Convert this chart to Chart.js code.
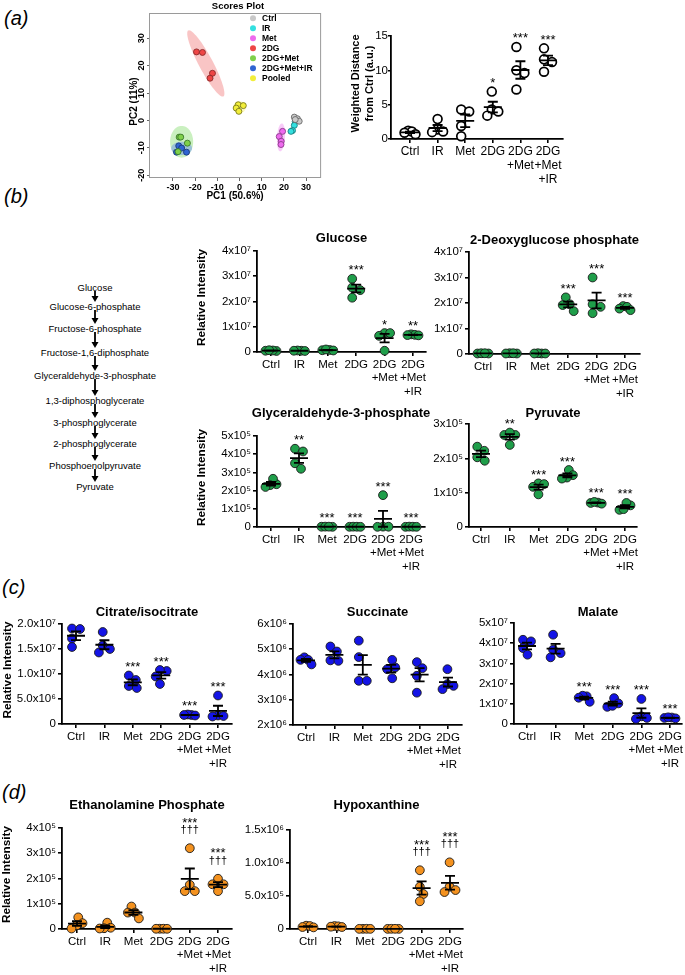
<!DOCTYPE html>
<html><head><meta charset="utf-8">
<script src="https://cdn.jsdelivr.net/npm/chart.js@4.4.1/dist/chart.umd.min.js"></script>
<style>
html,body{margin:0;padding:0;background:#fff;}
body{width:685px;height:975px;position:relative;overflow:hidden;font-family:"Liberation Sans",Arial,sans-serif;color:#000;}
canvas{position:absolute;}
.plab{position:absolute;font-style:italic;font-size:20px;line-height:20px;}
.pw{position:absolute;left:0;width:190px;text-align:center;font-size:9.5px;line-height:10px;}
svg{position:absolute;left:0;top:0;}
</style></head><body>
<div class="plab" style="left:4px;top:8px">(a)</div>
<div class="plab" style="left:4px;top:186px">(b)</div>
<div class="plab" style="left:2px;top:577px">(c)</div>
<div class="plab" style="left:2px;top:782px">(d)</div>
<div id="path"></div>
<script>
// ---------------- DATA ----------------
const groups = ['Ctrl','IR','Met','2DG','2DG+Met','2DG+Met+IR'];
const groupTickLabels = [['Ctrl'],['IR'],['Met'],['2DG'],['2DG','+Met'],['2DG','+Met','+IR']];

// (a) PCA scores plot: [PC1, PC2]
const pcaGroups = ['Ctrl','IR','Met','2DG','2DG+Met','2DG+Met+IR','Pooled'];
const pcaCtrl = [[24.7,1.2],[26.1,0.6],[26.9,-0.3],[25.1,0.3]];
const pcaIR = [[25.1,-0.4],[24.7,-1.8],[23.9,-3.7],[23.2,-4.0]];
const pcaMet = [[19.4,-4.0],[17.9,-5.9],[18.8,-7.6],[18.7,-8.8]];
const pca2DG = [[-19.4,25.0],[-16.7,24.8],[-12.2,17.2],[-13.3,15.4]];
const pca2DGMet = [[-27.2,-6.1],[-26.5,-6.1],[-23.5,-8.3],[-27.7,-11.4]];
const pca2DGMetIR = [[-27.4,-9.3],[-26.1,-10.1],[-28.4,-11.6],[-23.9,-11.6]];
const pcaPooled = [[-0.6,5.7],[1.7,5.4],[-1.5,4.5],[-0.3,3.3]];
// confidence ellipses: [centerX, centerY, semiAxisA_x, semiAxisA_y, semiAxisB_x, semiAxisB_y]
const ellCtrl = [25.8,0.7,1.6,0,0,1.1];
const ellIR = [24.45,-1.85,1.55,2.35,0.5,-0.25];
const ellMet = [18.7,-6.2,0.4,5.1,1.8,-0.1];
const ell2DG = [-15.2,20.8,7.9,-12.05,2.8,1.2];
const ell2DGMet = [-26.1,-7.8,5.2,0,0,5.8];
const ell2DGMetIR = [-26.1,-10.2,4.7,0,0,2.4];
const ellPooled = [0,4.8,2.9,0,0,2.2];
const pcaXTicks = [-30,-20,-10,0,10,20,30];
const pcaYTicks = [-20,-10,0,10,20,30];

// (a) weighted distance from Ctrl
const wdVals = [[1.2,1.1,0.9,0.7],[2.9,1.4,1.1,1.0],[4.3,4.0,1.9,0.4],[6.9,4.3,4.0,3.4],[13.4,10.0,9.6,7.2],[13.2,11.6,11.2,9.8]];
const wdStars = ['','','','*','***','***'];
const wdTicks = [0,5,10,15];
const wdTickLabels = ['0','5','10','15'];

// (b) glycolysis
const pathway = ['Glucose','Glucose-6-phosphate','Fructose-6-phosphate','Fructose-1,6-diphosphate','Glyceraldehyde-3-phosphate','1,3-diphosphoglycerate','3-phosphoglycerate','2-phosphoglycerate','Phosphoenolpyruvate','Pyruvate'];

const glucoseVals = [[4e5,6e5,5e5,7e5],[5e5,6e5,4e5,5e5],[8e5,7e5,1.0e6,6e5],[2.9e7,2.55e7,2.45e7,2.15e7],[7.5e6,7.5e6,6.4e6,5e5],[7.0e6,6.8e6,6.6e6,6.7e6]];
const glucoseStars = ['','','','***','*','**'];
const dgpVals = [[2e5,3e5,2e5,3e5],[3e5,2e5,2e5,3e5],[2e5,3e5,2e5,2e5],[2.22e7,1.95e7,1.92e7,1.68e7],[3.0e7,1.95e7,1.85e7,1.6e7],[1.88e7,1.85e7,1.78e7,1.72e7]];
const dgpStars = ['','','','***','***','***'];
const e7Ticks = [0,1e7,2e7,3e7,4e7];
const e7Labels = ['0','1x10\u2077','2x10\u2077','3x10\u2077','4x10\u2077'];

const g3pVals = [[2.35e5,2.65e5,2.3e5,2.2e5],[4.3e5,4.15e5,3.5e5,3.2e5],[1500,2000,1000,1800],[1200,1800,1500,1000],[1.75e5,2000,1000,1500],[1000,2000,1500,1000]];
const g3pStars = ['','**','***','***','***','***'];
const g3pTicks = [0,1e5,2e5,3e5,4e5,5e5];
const g3pLabels = ['0','1x10\u2075','2x10\u2075','3x10\u2075','4x10\u2075','5x10\u2075'];

const pyrVals = [[2.34e5,2.22e5,2.03e5,1.93e5],[2.68e5,2.68e5,2.75e5,2.39e5],[1.27e5,1.25e5,1.17e5,0.95e5],[1.66e5,1.51e5,1.44e5,1.41e5],[0.70e5,0.71e5,0.73e5,0.68e5],[0.63e5,0.70e5,0.50e5,0.52e5]];
const pyrStars = ['','**','***','***','***','***'];
const pyrTicks = [0,1e5,2e5,3e5];
const pyrLabels = ['0','1x10\u2075','2x10\u2075','3x10\u2075'];

// (c) TCA
const citVals = [[1.91e7,1.9e7,1.71e7,1.54e7],[1.84e7,1.57e7,1.5e7,1.43e7],[0.97e7,0.88e7,0.76e7,0.72e7],[1.06e7,1.08e7,0.95e7,0.8e7],[0.18e7,0.19e7,0.18e7,0.17e7],[0.57e7,0.17e7,0.15e7,0.16e7]];
const citStars = ['','','***','***','***','***'];
const citTicks = [0,5e6,1e7,1.5e7,2e7];
const citLabels = ['0','5.0x10\u2076','1.0x10\u2077','1.5x10\u2077','2.0x10\u2077'];

const sucVals = [[4.68e6,4.58e6,4.4e6,4.58e6],[5.11e6,4.91e6,4.56e6,4.54e6],[5.34e6,4.69e6,3.75e6,3.75e6],[4.58e6,4.28e6,4.21e6,3.85e6],[4.49e6,4.25e6,3.95e6,3.28e6],[4.21e6,3.62e6,3.55e6,3.42e6]];
const sucStars = ['','','','','',''];
const sucTicks = [2e6,3e6,4e6,5e6,6e6];
const sucLabels = ['2x10\u2076','3x10\u2076','4x10\u2076','5x10\u2076','6x10\u2076'];

const malVals = [[4.17e7,4.09e7,3.76e7,3.43e7],[4.42e7,3.68e7,3.51e7,3.3e7],[1.37e7,1.4e7,1.3e7,1.1e7],[1.28e7,1.02e7,0.85e7,0.9e7],[1.24e7,0.38e7,0.25e7,0.3e7],[0.32e7,0.28e7,0.3e7,0.33e7]];
const malStars = ['','','***','***','***','***'];
const malTicks = [0,1e7,2e7,3e7,4e7,5e7];
const malLabels = ['0','1x10\u2077','2x10\u2077','3x10\u2077','4x10\u2077','5x10\u2077'];

// (d)
const ethVals = [[4.6e4,2.3e4,1.5e4,2e3],[2.5e4,5e3,3e3,2e3],[8.9e4,6.5e4,6.5e4,4.2e4],[1000,1000,800,900],[3.2e5,1.75e5,1.5e5,1.5e5],[1.99e5,1.77e5,1.77e5,1.5e5]];
const ethStars = ['','','','','***','***'];
const ethDaggers = ['','','','','\u2020\u2020\u2020','\u2020\u2020\u2020'];
const ethTicks = [0,1e5,2e5,3e5,4e5];
const ethLabels = ['0','1x10\u2075','2x10\u2075','3x10\u2075','4x10\u2075'];

const hypVals = [[5e4,4.5e4,3e4,2.5e4],[4.5e4,4e4,3e4,3.5e4],[3e3,2e3,3e3,2e3],[2e3,3e3,2e3,3e3],[8.9e5,6.4e5,5.3e5,4.2e5],[1.01e6,6.4e5,5.9e5,5.6e5]];
const hypStars = ['','','','','***','***'];
const hypDaggers = ['','','','','\u2020\u2020\u2020','\u2020\u2020\u2020'];
const hypTicks = [0,5e5,1e6,1.5e6];
const hypLabels = ['0','5.0x10\u2075','1.0x10\u2076','1.5x10\u2076'];

// ---------------- RENDER ----------------
const FONT = '"Liberation Sans", Arial, Helvetica, sans-serif';
Chart.defaults.font.family = FONT;
Chart.defaults.color = '#000';
Chart.defaults.animation = false;

function mk(left, top, w, h){
  const c = document.createElement('canvas');
  c.width = w; c.height = h;
  c.style.left = left+'px'; c.style.top = top+'px';
  c.style.width = w+'px'; c.style.height = h+'px';
  document.body.appendChild(c);
  return c;
}
const mean = a => a.reduce((s,v)=>s+v,0)/a.length;
const sem = a => { const m = mean(a); return Math.sqrt(a.reduce((s,v)=>s+(v-m)*(v-m),0)/(a.length-1))/Math.sqrt(a.length); };

function swarm(pixYs, D, maxSpread){
  const idx = pixYs.map((v,i)=>i).sort((a,b)=>pixYs[a]-pixYs[b]);
  const placed = []; const off = new Array(pixYs.length).fill(0);
  for (const i of idx){
    const y = pixYs[i]; let best = 0;
    outer: for (let k=0;k<=60;k++){
      const cands = k===0 ? [0] : [k*0.5, -k*0.5];
      for (const dx of cands){
        if (placed.every(p=>Math.hypot(p.x-dx,p.y-y)>=D)){ best = dx; break outer; }
      }
    }
    placed.push({x:best,y}); off[i]=best;
  }
  const mn = Math.min(...off), mx = Math.max(...off), c=(mn+mx)/2;
  let r = off.map(o=>o-c); const rng = mx-mn;
  if (rng>maxSpread) r = r.map(o=>o*maxSpread/rng);
  return r;
}

const YW=80, TP=48, RP=14, XH=52;
function dotChart(cfg){
  const a = cfg.area;
  const cw = a.right-a.left+YW+RP, ch = a.bottom-a.top+TP+XH;
  const cl = a.left-YW, ct = a.top-TP;
  const canvas = mk(cl, ct, cw, ch);
  const xmin = (a.left-cfg.ctrlX)/cfg.spacing, xmax = (a.right-cfg.ctrlX)/cfg.spacing;
  const yMin = cfg.yTicks[0], yMax = cfg.yTicks[cfg.yTicks.length-1];
  const pxPerY = (a.bottom-a.top)/(yMax-yMin);
  const pts = [];
  cfg.vals.forEach((vals,i)=>{
    const offs = swarm(vals.map(v=>-(v-yMin)*pxPerY), 8, 11);
    vals.forEach((v,j)=>pts.push({x:i+offs[j]/cfg.spacing, y:v}));
  });
  const fs = cfg.fontSize || 11.5;
  const plugin = {
    id:'deco'+cfg.id,
    afterDatasetsDraw(chart){
      const {ctx, scales:{x,y}} = chart;
      ctx.save();
      ctx.strokeStyle='#000'; ctx.lineWidth=1.8; ctx.lineCap='butt';
      cfg.vals.forEach((vals,i)=>{
        const m = mean(vals), s = sem(vals);
        const cx = x.getPixelForValue(i);
        const ym = y.getPixelForValue(m), yt = y.getPixelForValue(m+s), yb = y.getPixelForValue(Math.max(m-s,yMin));
        ctx.beginPath();
        ctx.moveTo(cx-9,ym); ctx.lineTo(cx+9,ym);
        ctx.moveTo(cx,yt); ctx.lineTo(cx,yb);
        ctx.moveTo(cx-5,yt); ctx.lineTo(cx+5,yt);
        ctx.moveTo(cx-5,yb); ctx.lineTo(cx+5,yb);
        ctx.stroke();
        const topPix = Math.min(...vals.map(v=>y.getPixelForValue(v)), yt);
        ctx.fillStyle='#000'; ctx.textAlign='center'; ctx.textBaseline='alphabetic';
        const dag = cfg.daggers ? cfg.daggers[i] : '';
        const st = cfg.stars[i];
        if (dag){
          ctx.font = '11px '+FONT;
          ctx.fillText(dag, cx, topPix-18+3);
          if (st){ ctx.font = '13px '+FONT; ctx.fillText(st, cx, topPix-29+7.5); }
        } else if (st){
          ctx.font = '13px '+FONT; ctx.fillText(st, cx, topPix-12+7.5);
        }
      });
      if (cfg.title){
        ctx.font = 'bold 13px '+FONT; ctx.textAlign='center'; ctx.textBaseline='middle';
        ctx.fillText(cfg.title, (chart.chartArea.left+chart.chartArea.right)/2, cfg.titleY-ct);
      }
      if (cfg.yTitle){
        const cy = (chart.chartArea.top+chart.chartArea.bottom)/2 - 4;
        cfg.yTitle.forEach((t,k)=>{
          ctx.save();
          ctx.translate(cfg.yTitleX[k]-cl, cy);
          ctx.rotate(-Math.PI/2);
          ctx.font = 'bold '+(cfg.yTitleSize||11.8)+'px '+FONT; ctx.textAlign='center'; ctx.textBaseline='middle';
          ctx.fillText(t,0,0);
          ctx.restore();
        });
      }
      ctx.restore();
    }
  };
  new Chart(canvas, {
    type:'scatter',
    data:{datasets:[{data:pts, pointRadius:4.4, pointHoverRadius:4.4,
      backgroundColor: cfg.open ? '#fff' : cfg.color,
      borderColor: cfg.open ? '#000' : '#1a1a1a',
      borderWidth: cfg.open ? 1.7 : 0.9, clip:false}]},
    options:{
      responsive:false, devicePixelRatio:1, animation:false,
      layout:{padding:{top:TP,right:RP,left:0,bottom:0}},
      plugins:{legend:{display:false}, tooltip:{enabled:false}, title:{display:false}},
      scales:{
        x:{type:'linear', min:xmin, max:xmax,
          afterBuildTicks:s=>{ s.ticks=[0,1,2,3,4,5].map(v=>({value:v})); },
          afterFit:s=>{ s.height=XH; },
          ticks:{autoSkip:false, maxRotation:0, minRotation:0, padding:2, color:'#000',
            font:{size:fs, lineHeight:1.17}, callback:(v)=>groupTickLabels[Math.round(v)]},
          grid:{display:true, drawOnChartArea:false, drawTicks:true, tickLength:4, color:'#000', lineWidth:1.6},
          border:{display:true, color:'#000', width:1.8}},
        y:{type:'linear', min:yMin, max:yMax,
          afterBuildTicks:s=>{ s.ticks=cfg.yTicks.map(v=>({value:v})); },
          afterFit:s=>{ s.width=YW; },
          ticks:{padding:cfg.yPad===undefined?2:cfg.yPad, color:'#000', font:{size:cfg.yFontSize||11.5}, callback:(v,i)=>cfg.yLabels[i]},
          grid:{display:true, drawOnChartArea:false, drawTicks:true, tickLength:cfg.yTickLen||4, color:'#000', lineWidth:1.6},
          border:{display:true, color:'#000', width:1.8}}
      }
    },
    plugins:[plugin]
  });
}

const GREEN='#1f9e4a', BLUE='#1414e6', ORANGE='#f4921f';

dotChart({id:'wd', area:{left:391,top:36,right:563,bottom:139}, ctrlX:410, spacing:27.6,
  yTicks:wdTicks, yLabels:wdTickLabels, vals:wdVals, stars:wdStars, open:true, fontSize:12, yFontSize:11.5,
  yPad:0, yTickLen:3, yTitleSize:11,
  yTitle:['Weighted Distance','from Ctrl (a.u.)'], yTitleX:[356,370]});

dotChart({id:'glu', area:{left:257,top:251,right:426,bottom:352}, ctrlX:271, spacing:28.4,
  yTicks:e7Ticks, yLabels:e7Labels, vals:glucoseVals, stars:glucoseStars, color:GREEN,
  title:'Glucose', titleY:238, yTitle:['Relative Intensity'], yTitleX:[202]});
dotChart({id:'dgp', area:{left:469,top:252,right:640,bottom:354}, ctrlX:483, spacing:28.4,
  yTicks:e7Ticks, yLabels:e7Labels, vals:dgpVals, stars:dgpStars, color:GREEN,
  title:'2-Deoxyglucose phosphate', titleY:240});
dotChart({id:'g3p', area:{left:257,top:436,right:425,bottom:527}, ctrlX:271, spacing:28.0,
  yTicks:g3pTicks, yLabels:g3pLabels, vals:g3pVals, stars:g3pStars, color:GREEN,
  title:'Glyceraldehyde-3-phosphate', titleY:413, yTitle:['Relative Intensity'], yTitleX:[202]});
dotChart({id:'pyr', area:{left:469,top:424,right:637,bottom:527}, ctrlX:481, spacing:28.8,
  yTicks:pyrTicks, yLabels:pyrLabels, vals:pyrVals, stars:pyrStars, color:GREEN,
  title:'Pyruvate', titleY:413});

dotChart({id:'cit', area:{left:62,top:624,right:232,bottom:724}, ctrlX:76, spacing:28.4,
  yTicks:citTicks, yLabels:citLabels, vals:citVals, stars:citStars, color:BLUE,
  title:'Citrate/isocitrate', titleY:612, yTitle:['Relative Intensity'], yTitleX:[8]});
dotChart({id:'suc', area:{left:293,top:624,right:462,bottom:725}, ctrlX:306, spacing:28.4,
  yTicks:sucTicks, yLabels:sucLabels, vals:sucVals, stars:sucStars, color:BLUE,
  title:'Succinate', titleY:612});
dotChart({id:'mal', area:{left:514,top:623,right:682,bottom:724}, ctrlX:527, spacing:28.6,
  yTicks:malTicks, yLabels:malLabels, vals:malVals, stars:malStars, color:BLUE,
  title:'Malate', titleY:612});

dotChart({id:'eth', area:{left:62,top:828,right:232,bottom:929}, ctrlX:77, spacing:28.2,
  yTicks:ethTicks, yLabels:ethLabels, vals:ethVals, stars:ethStars, daggers:ethDaggers, color:ORANGE,
  title:'Ethanolamine Phosphate', titleY:805, yTitle:['Relative Intensity'], yTitleX:[7]});
dotChart({id:'hyp', area:{left:290,top:830,right:463,bottom:929}, ctrlX:308, spacing:28.4,
  yTicks:hypTicks, yLabels:hypLabels, vals:hypVals, stars:hypStars, daggers:hypDaggers, color:ORANGE,
  title:'Hypoxanthine', titleY:805});

// ---------------- PCA scores plot ----------------
(function(){
  const area = {left:149, top:13, right:322, bottom:178};
  const x0 = 240, xpu = 2.23, y0 = 120.4, ypu = 2.74;
  const xmin = (area.left-x0)/xpu, xmax = (area.right-x0)/xpu;
  const ymax = (y0-area.top)/ypu, ymin = (y0-area.bottom)/ypu;
  const L=40, T=14, R=4, B=30;
  const canvas = mk(area.left-L, area.top-T, area.right-area.left+L+R, area.bottom-area.top+T+B);
  const cl = area.left-L, ct = area.top-T;
  const sets = [pcaCtrl,pcaIR,pcaMet,pca2DG,pca2DGMet,pca2DGMetIR,pcaPooled];
  const ells = [ellCtrl,ellIR,ellMet,ell2DG,ell2DGMet,ell2DGMetIR,ellPooled];
  const fill = ['#c9c9c9','#33e0e0','#ee6aee','#ee4646','#7fd04a','#2f64d2','#f2ee3a'];
  const edge = ['#6a6a6a','#1a8080','#8a3a8a','#8a2a2a','#3a7a2a','#1a3a7a','#7a7a1a'];
  const ellFill = ['rgba(190,190,190,0.45)','rgba(110,230,230,0.45)','rgba(240,140,240,0.45)','rgba(244,150,150,0.55)','rgba(150,225,130,0.5)','rgba(110,150,235,0.5)','rgba(250,248,160,0.65)'];
  const plugin = {
    id:'pca',
    beforeDatasetsDraw(chart){
      const {ctx, scales:{x,y}, chartArea:ca} = chart;
      ctx.save();
      ctx.strokeStyle='#9a9a9a'; ctx.lineWidth=1;
      ctx.strokeRect(ca.left+0.5, ca.top+0.5, ca.right-ca.left-1, ca.bottom-ca.top-1);
      ells.forEach((e,k)=>{
        ctx.beginPath();
        for (let t=0;t<=64;t++){
          const th = t/64*2*Math.PI;
          const px = x.getPixelForValue(e[0]+e[2]*Math.cos(th)+e[4]*Math.sin(th));
          const py = y.getPixelForValue(e[1]+e[3]*Math.cos(th)+e[5]*Math.sin(th));
          if (t===0) ctx.moveTo(px,py); else ctx.lineTo(px,py);
        }
        ctx.closePath(); ctx.fillStyle = ellFill[k]; ctx.fill();
      });
      ctx.restore();
    },
    afterDatasetsDraw(chart){
      const {ctx, scales:{x,y}, chartArea:ca} = chart;
      ctx.save();
      ctx.font = 'bold 8.5px '+FONT; ctx.textBaseline='middle'; ctx.textAlign='left';
      pcaGroups.forEach((g,k)=>{
        const ly = 18.3 + k*10 - ct;
        ctx.beginPath(); ctx.arc(253-cl, ly, 3, 0, 2*Math.PI);
        ctx.fillStyle = fill[k]; ctx.fill();
        ctx.fillStyle = '#000'; ctx.fillText(g, 262-cl, ly);
      });
      ctx.font = 'bold 9.5px '+FONT; ctx.textAlign='center';
      ctx.fillText('Scores Plot', 238-cl, 5-ct+1);
      ctx.font = 'bold 9px '+FONT;
      pcaYTicks.forEach(v=>{
        ctx.save(); ctx.translate(ca.left-7.5, y.getPixelForValue(v)); ctx.rotate(-Math.PI/2);
        ctx.textAlign='center'; ctx.textBaseline='middle'; ctx.fillText(String(v),0,0); ctx.restore();
      });
      ctx.font = 'bold 10px '+FONT;
      ctx.save(); ctx.translate(ca.left-15, (ca.top+ca.bottom)/2+6); ctx.rotate(-Math.PI/2);
      ctx.textAlign='center'; ctx.textBaseline='middle'; ctx.fillText('PC2 (11%)',0,0); ctx.restore();
      ctx.textAlign='center'; ctx.textBaseline='middle';
      ctx.fillText('PC1 (50.6%)', (ca.left+ca.right)/2, ca.bottom+18);
      ctx.restore();
    }
  };
  new Chart(canvas, {
    type:'scatter',
    data:{datasets: sets.map((s,k)=>({label:pcaGroups[k], data:s.map(p=>({x:p[0],y:p[1]})),
      pointRadius:3, backgroundColor:fill[k], borderColor:edge[k], borderWidth:0.9, clip:false}))},
    options:{
      responsive:false, devicePixelRatio:1, animation:false,
      layout:{padding:{top:T,right:R,left:0,bottom:0}},
      plugins:{legend:{display:false}, tooltip:{enabled:false}},
      scales:{
        x:{type:'linear', min:xmin, max:xmax,
          afterBuildTicks:s=>{ s.ticks=pcaXTicks.filter(v=>v>=xmin&&v<=xmax).map(v=>({value:v})); },
          afterFit:s=>{ s.height=B; },
          ticks:{autoSkip:false, maxRotation:0, padding:1, color:'#000', font:{size:9, weight:'bold'}},
          grid:{display:true, drawOnChartArea:false, tickLength:3, color:'#666', lineWidth:1},
          border:{display:false}},
        y:{type:'linear', min:ymin, max:ymax,
          afterBuildTicks:s=>{ s.ticks=pcaYTicks.map(v=>({value:v})); },
          afterFit:s=>{ s.width=L; },
          ticks:{display:true, color:'rgba(0,0,0,0)', font:{size:9}},
          grid:{display:true, drawOnChartArea:false, tickLength:2, color:'#666', lineWidth:1},
          border:{display:false}}
      }
    },
    plugins:[plugin]
  });
})();

// ---------------- pathway ----------------
(function(){
  const ys = [288,307,329,353,376,401,423,444,466,487];
  const host = document.getElementById('path');
  pathway.forEach((t,i)=>{
    const d = document.createElement('div'); d.className='pw'; d.textContent=t;
    d.style.top = (ys[i]-5)+'px'; host.appendChild(d);
  });
  let svg = '<svg width="190" height="500" xmlns="http://www.w3.org/2000/svg">';
  for (let i=0;i<ys.length-1;i++){
    const y1 = ys[i]+3, y2 = ys[i+1]-5;
    svg += `<line x1="95" y1="${y1}" x2="95" y2="${y2-4}" stroke="#000" stroke-width="1.8"/>`;
    svg += `<polygon points="91.5,${y2-6} 98.5,${y2-6} 95,${y2}" fill="#000"/>`;
  }
  svg += '</svg>';
  host.insertAdjacentHTML('beforeend', svg);
})();
</script>
</body></html>
